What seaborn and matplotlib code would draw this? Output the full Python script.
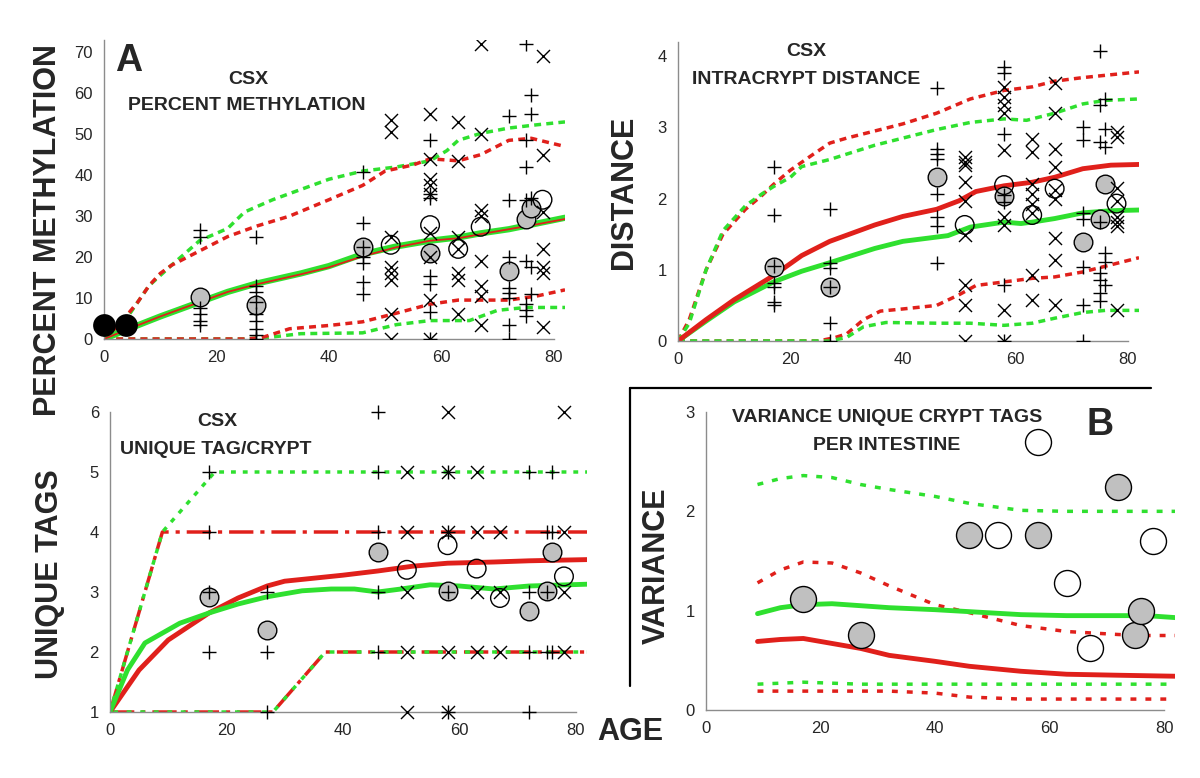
import matplotlib
matplotlib.use("Agg")
import matplotlib.pyplot as plt
import seaborn as sns
from matplotlib.lines import Line2D

W, H = 1200, 778
RED = "#e0201b"
GREEN = "#2fe02f"
GRAY_FILL = "#c0c0c0"
AXIS_GRAY = "#8c8c8c"

# ---------------- panel A: percent methylation ----------------
meth_black_age = [0, 4]
meth_black_val = [3.5, 3.5]
meth_gray_age = [17, 27, 46, 58, 72, 75, 76]
meth_gray_val = [10.3, 8.3, 22.5, 21, 16.7, 29.4, 31.9]
meth_open_age = [51, 58, 63, 67, 78]
meth_open_val = [23, 27.8, 22, 27.4, 34]
meth_plus = {
    17: [26.5, 25, 7.5, 6, 4.5, 3.5],
    27: [25, 13, 11.5, 9, 6, 4.5, 2.5, 1, 0],
    46: [40.8, 28.2, 22.5, 20, 18.5, 14, 11],
    58: [48.5, 35.5, 34.5, 15.5, 13.5, 6.5, 0],
    72: [54.5, 34, 20, 12.5, 11.2, 10, 3.5, 0],
    75: [72, 48.5, 42, 34, 19, 8.5, 7, 5.5],
    76: [59.5, 55, 34.5, 17.5, 11],
}
meth_cross = {
    51: [53.5, 50.5, 25, 17.5, 16, 14.5, 6, 0],
    58: [55, 44, 39, 37.5, 35.5, 26, 20, 9.5, 0],
    63: [53, 43.5, 25, 22, 16, 14.5, 6],
    67: [72, 50, 31.5, 30, 19, 13, 10.5, 3.5],
    78: [69, 45, 31, 22, 17.5, 16, 3],
}
meth_mean_age = [0, 5, 10, 17, 22, 27, 35, 40, 46, 52, 58, 63, 67, 72, 77, 82]
meth_mean_green = [0, 2.8, 5.5, 9, 11.5, 13.5, 16, 17.8, 20.7, 22.6, 24, 24.8, 25.8, 26.8, 28.2, 29.6]
meth_mean_red = [0, 2.8, 5.5, 9, 11.5, 13.3, 15.8, 17.5, 20.2, 22.4, 24, 24.6, 25.6, 26.8, 28, 29.3]
meth_hi_green_age = [0, 4, 8, 12, 17, 22, 25, 30, 40, 46, 52, 58, 61, 63, 67, 72, 77, 82]
meth_hi_green = [0, 5, 13, 18, 24, 27, 31, 34, 39, 41, 42, 43.5, 46, 48.5, 50.2, 51.5, 52.3, 53]
meth_hi_red_age = [0, 3, 6, 8, 10, 12, 17, 22, 27, 33, 40, 46, 50, 55, 58, 63, 67, 72, 76, 82]
meth_hi_red = [0, 4, 9, 13, 16, 18, 21.5, 25, 27.5, 30, 34, 37.5, 41, 42.5, 44, 43.5, 45, 48.5, 49, 47]
meth_lo_red_age = [0, 25, 28, 33, 40, 46, 52, 58, 63, 67, 72, 77, 82]
meth_lo_red = [0, 0, 0.3, 2.5, 3.3, 4.2, 6.3, 8.5, 9.5, 9.5, 9.5, 10.5, 12]
meth_lo_green_age = [0, 25, 30, 35, 46, 52, 58, 65, 70, 75, 82]
meth_lo_green = [0, 0, 0.5, 1.3, 1.5, 3.5, 4.5, 4.5, 7, 7.7, 7.7]

# ---------------- panel B (top right): intracrypt distance ----------------
dist_gray_age = [17, 27, 46, 58, 72, 75, 76]
dist_gray_val = [1.04, 0.76, 2.31, 2.03, 1.39, 1.72, 2.21]
dist_open_age = [51, 58, 63, 67, 78]
dist_open_val = [1.63, 2.19, 1.77, 2.14, 1.93]
dist_plus = {
    17: [2.45, 1.77, 1.06, 0.81, 0.76, 0.55, 0.5],
    27: [1.85, 1.09, 1.02, 0.76, 0.25, 0],
    46: [3.55, 2.7, 2.62, 2.55, 2.07, 1.74, 1.62, 1.09],
    58: [3.85, 3.76, 2.91, 2.05, 1.95, 0.79, 0],
    72: [3.0, 2.82, 1.8, 1.72, 1.04, 0.5, 0],
    75: [4.07, 3.31, 2.8, 1.67, 0.95, 0.86, 0.67, 0.56],
    76: [3.4, 2.98, 2.73, 1.23, 1.11, 0.79],
}
dist_cross = {
    51: [2.58, 2.52, 2.47, 2.24, 1.96, 1.49, 0.79, 0.51, 0],
    58: [3.57, 3.43, 3.31, 3.2, 2.68, 1.74, 1.63, 0.44, 0],
    63: [2.84, 2.66, 2.21, 2.07, 1.93, 1.8, 0.93, 0.58],
    67: [3.62, 3.2, 2.7, 2.45, 2.12, 2.0, 1.44, 1.14, 0.51],
    78: [2.93, 2.86, 2.15, 1.96, 1.74, 1.67, 1.62, 0.44],
}
dist_mean_red_age = [0, 5, 10, 17, 22, 27, 35, 40, 46, 50, 53, 58, 63, 67, 72, 77, 82]
dist_mean_red = [0, 0.3, 0.58, 0.92, 1.2, 1.4, 1.63, 1.75, 1.85, 1.97, 2.1, 2.18, 2.23, 2.3, 2.42, 2.47, 2.48]
dist_mean_green_age = [0, 5, 10, 17, 22, 27, 35, 40, 48, 52, 58, 61, 63, 67, 72, 77, 82]
dist_mean_green = [0, 0.28, 0.55, 0.83, 0.98, 1.1, 1.3, 1.4, 1.48, 1.6, 1.67, 1.65, 1.67, 1.72, 1.8, 1.83, 1.84]
dist_hi_red_age = [0, 2, 5, 8, 12, 15, 17, 20, 24, 27, 30, 40, 46, 52, 58, 63, 67, 72, 82]
dist_hi_red = [0, 0.3, 1.0, 1.5, 1.85, 2.05, 2.2, 2.4, 2.62, 2.78, 2.85, 3.05, 3.2, 3.4, 3.52, 3.57, 3.65, 3.7, 3.78]
dist_hi_green_age = [0, 2, 5, 8, 12, 15, 17, 20, 22, 27, 35, 46, 52, 58, 62, 67, 72, 76, 82]
dist_hi_green = [0, 0.25, 1.0, 1.55, 1.9, 2.07, 2.17, 2.3, 2.45, 2.55, 2.75, 2.97, 3.07, 3.12, 3.1, 3.2, 3.33, 3.38, 3.4]
dist_lo_red_age = [0, 25, 28, 30, 33, 36, 40, 46, 50, 53, 58, 63, 67, 72, 82]
dist_lo_red = [0, 0, 0.05, 0.1, 0.3, 0.42, 0.45, 0.5, 0.65, 0.78, 0.83, 0.88, 0.9, 0.97, 1.17]
dist_lo_green_age = [0, 27, 30, 33, 37, 46, 52, 58, 63, 67, 72, 76, 82]
dist_lo_green = [0, 0, 0.05, 0.2, 0.26, 0.25, 0.25, 0.22, 0.25, 0.32, 0.4, 0.43, 0.43]

# ---------------- panel C (bottom left): unique tags per crypt ----------------
tags_gray_age = [17, 27, 46, 58, 72, 75, 76]
tags_gray_val = [2.91, 2.36, 3.67, 3.02, 2.69, 3.02, 3.67]
tags_open_age = [51, 58, 63, 67, 78]
tags_open_val = [3.37, 3.78, 3.39, 2.9, 3.26]
tags_plus = {
    17: [5, 4, 3, 2],
    27: [3, 2, 1],
    46: [6, 5, 4, 3, 2],
    58: [5, 4, 3, 1],
    72: [5, 3, 2, 1],
    75: [4, 3, 2],
    76: [5, 4, 2],
}
tags_cross = {
    51: [5, 4, 3, 2, 1],
    58: [6, 5, 4, 2, 1],
    63: [5, 4, 3, 2],
    67: [4, 3, 2],
    78: [6, 4, 3, 2],
}
tags_mean_red_age = [0, 5, 10, 17, 22, 27, 30, 40, 46, 52, 58, 66, 72, 82]
tags_mean_red = [1, 1.7, 2.2, 2.65, 2.9, 3.1, 3.18, 3.28, 3.35, 3.43, 3.48, 3.5, 3.52, 3.54]
tags_mean_green_age = [0, 3, 6, 12, 17, 22, 27, 33, 38, 42, 46, 50, 55, 60, 66, 72, 82]
tags_mean_green = [1, 1.7, 2.15, 2.48, 2.65, 2.8, 2.92, 3.02, 3.05, 3.05, 3.0, 3.05, 3.12, 3.1, 3.05, 3.1, 3.13]
tags_hi_green_age = [0, 9, 18, 82]
tags_hi_green = [1, 4, 5, 5]
tags_hi_red_age = [0, 9, 82]
tags_hi_red = [1, 4, 4]
tags_lo_age = [0, 28, 37, 82]
tags_lo = [1, 1, 2, 2]

# ---------------- panel D (bottom right): variance of unique tags ----------------
var_gray_age = [17, 27, 46, 58, 72, 75, 76]
var_gray_val = [1.12, 0.76, 1.76, 1.76, 2.25, 0.76, 1.0]
var_open_age = [51, 58, 63, 67, 78]
var_open_val = [1.76, 2.7, 1.28, 0.62, 1.7]
var_age = [9, 13, 17, 22, 27, 32, 40, 46, 55, 63, 72, 77, 82]
var_mean_green = [0.97, 1.03, 1.06, 1.07, 1.05, 1.03, 1.01, 0.99, 0.96, 0.95, 0.95, 0.95, 0.93]
var_mean_red = [0.69, 0.71, 0.72, 0.67, 0.62, 0.55, 0.49, 0.44, 0.39, 0.36, 0.35, 0.345, 0.34]
var_hi_green = [2.27, 2.33, 2.36, 2.34, 2.27, 2.22, 2.15, 2.08, 2.01, 2.0, 2.0, 2.0, 2.0]
var_hi_red = [1.28, 1.41, 1.49, 1.48, 1.38, 1.25, 1.06, 0.98, 0.85, 0.79, 0.76, 0.75, 0.75]
var_lo_green = [0.26, 0.27, 0.28, 0.27, 0.26, 0.26, 0.26, 0.26, 0.26, 0.26, 0.26, 0.26, 0.26]
var_lo_red = [0.19, 0.19, 0.19, 0.19, 0.19, 0.19, 0.17, 0.13, 0.11, 0.11, 0.11, 0.11, 0.11]


def spread(columns):
    xs, ys = [], []
    for age, vals in columns.items():
        xs += [age] * len(vals)
        ys += vals
    return xs, ys


def line(ax, x, y, color, lw, ls="-"):
    sns.lineplot(x=x, y=y, ax=ax, color=color, linewidth=lw, linestyle=ls,
                 estimator=None, sort=False, legend=False, zorder=2)


def marks(ax, plus, cross, gray_x, gray_y, open_x, open_y, circle_s=180, cross_s=110):
    px, py = spread(plus)
    cx, cy = spread(cross)
    sns.scatterplot(x=px, y=py, ax=ax, marker="+", s=cross_s, color="black",
                    linewidth=1.0, zorder=4, legend=False)
    sns.scatterplot(x=cx, y=cy, ax=ax, marker="x", s=cross_s * 0.8, color="black",
                    linewidth=1.0, zorder=4, legend=False)
    sns.scatterplot(x=gray_x, y=gray_y, ax=ax, marker="o", s=circle_s, color=GRAY_FILL,
                    edgecolor="black", linewidth=1.0, zorder=3, legend=False)
    sns.scatterplot(x=open_x, y=open_y, ax=ax, marker="o", s=circle_s, facecolor="none",
                    edgecolor="black", linewidth=1.0, zorder=3, legend=False)


def style_axes(ax, ylim, yticks):
    ax.set_xlim(0, 82)
    ax.set_ylim(*ylim)
    ax.set_xticks([0, 20, 40, 60, 80])
    ax.set_yticks(yticks)
    ax.set_xlabel("")
    ax.set_ylabel("")
    for side in ["top", "right"]:
        ax.spines[side].set_visible(False)
    for side in ["left", "bottom"]:
        ax.spines[side].set_color(AXIS_GRAY)
        ax.spines[side].set_linewidth(1.0)
    ax.spines["bottom"].set_bounds(0, 80)
    ax.tick_params(axis="x", direction="in", length=5, color=AXIS_GRAY, labelsize=12, pad=8)
    ax.tick_params(axis="y", direction="out", length=4, color=AXIS_GRAY, labelsize=12, pad=4)
    ax.patch.set_alpha(0)


def fig_text(fig, x, y, s, size, **kw):
    fig.text(x / W, 1 - y / H, s, fontsize=size, fontweight="bold",
             ha="center", va="center", **kw)


sns.set_style("white")
plt.rcParams["font.family"] = ["Liberation Sans", "DejaVu Sans"]

fig = plt.figure(figsize=(12, 7.78), dpi=100)
dash = (0, (2.0, 1.5))

# panel A
ax = fig.add_axes([104 / W, 1 - 339 / H, 461 / W, 299 / H])
line(ax, meth_hi_green_age, meth_hi_green, GREEN, 2.5, dash)
line(ax, meth_hi_red_age, meth_hi_red, RED, 2.5, dash)
line(ax, meth_lo_green_age, meth_lo_green, GREEN, 2.5, dash)
line(ax, meth_lo_red_age, meth_lo_red, RED, 2.5, dash)
line(ax, meth_mean_age, meth_mean_green, GREEN, 4.5)
line(ax, meth_mean_age, meth_mean_red, RED, 1.3)
marks(ax, meth_plus, meth_cross, meth_gray_age, meth_gray_val, meth_open_age, meth_open_val)
sns.scatterplot(x=meth_black_age, y=meth_black_val, ax=ax, marker="o", s=230, color="black",
                edgecolor="black", zorder=5, legend=False, clip_on=False)
style_axes(ax, (0, 73), range(0, 71, 10))

# panel B (top right)
ax = fig.add_axes([678 / W, 1 - 341 / H, 461 / W, 299 / H])
line(ax, dist_hi_red_age, dist_hi_red, RED, 2.5, dash)
line(ax, dist_hi_green_age, dist_hi_green, GREEN, 2.5, dash)
line(ax, dist_lo_red_age, dist_lo_red, RED, 2.5, dash)
line(ax, dist_lo_green_age, dist_lo_green, GREEN, 2.5, dash)
line(ax, dist_mean_green_age, dist_mean_green, GREEN, 3.5)
line(ax, dist_mean_red_age, dist_mean_red, RED, 3.5)
marks(ax, dist_plus, dist_cross, dist_gray_age, dist_gray_val, dist_open_age, dist_open_val)
style_axes(ax, (0, 4.2), range(0, 5))

# panel C (bottom left)
ax = fig.add_axes([110 / W, 1 - 712 / H, 82 * 5.82 / W, 300 / H])
line(ax, tags_hi_red_age, tags_hi_red, RED, 2.5, (0, (7, 2, 1.2, 2)))
line(ax, tags_hi_green_age, tags_hi_green, GREEN, 2.5, (0, (1.4, 2)))
line(ax, tags_lo_age, tags_lo, RED, 2.5, (0, (7, 2, 1.2, 2)))
line(ax, tags_lo_age, tags_lo, GREEN, 2.5, (3, (1.4, 2.5)))
line(ax, tags_mean_red_age, tags_mean_red, RED, 3.5)
line(ax, tags_mean_green_age, tags_mean_green, GREEN, 3.5)
marks(ax, tags_plus, tags_cross, tags_gray_age, tags_gray_val, tags_open_age, tags_open_val)
style_axes(ax, (1, 6), range(1, 7))
for pt in ax.collections:
    pt.set_clip_on(False)

# panel D (bottom right)
ax = fig.add_axes([706 / W, 1 - 710 / H, 82 * 5.725 / W, 298 / H])
line(ax, var_age, var_hi_green, GREEN, 2.5, (0, (1.7, 2.6)))
line(ax, var_age, var_hi_red, RED, 2.5, (0, (1.7, 2.6)))
line(ax, var_age, var_lo_green, GREEN, 2.5, (0, (1.7, 2.6)))
line(ax, var_age, var_lo_red, RED, 2.5, (0, (1.7, 2.6)))
line(ax, var_age, var_mean_green, GREEN, 3.5)
line(ax, var_age, var_mean_red, RED, 3.5)
sns.scatterplot(x=var_gray_age, y=var_gray_val, ax=ax, marker="o", s=350, color=GRAY_FILL,
                edgecolor="black", linewidth=1.0, zorder=3, legend=False)
sns.scatterplot(x=var_open_age, y=var_open_val, ax=ax, marker="o", s=350, facecolor="white",
                edgecolor="black", linewidth=1.0, zorder=3, legend=False)
style_axes(ax, (0, 3), range(0, 4))

# bracket around panel B
fig.add_artist(Line2D([630 / W, 1151 / W], [1 - 388 / H, 1 - 388 / H], color="black", lw=1.6))
fig.add_artist(Line2D([630 / W, 630 / W], [1 - 388 / H, 1 - 686 / H], color="black", lw=1.6))

# titles inside panels
fig_text(fig, 248, 79, "CSX", 14)
fig_text(fig, 247, 106, "PERCENT METHYLATION", 14)
fig_text(fig, 806, 52, "CSX", 14)
fig_text(fig, 806, 80, "INTRACRYPT DISTANCE", 14)
fig_text(fig, 217, 422, "CSX", 14)
fig_text(fig, 216, 449, "UNIQUE TAG/CRYPT", 14)
fig_text(fig, 887, 418, "VARIANCE UNIQUE CRYPT TAGS", 14)
fig_text(fig, 887, 446, "PER INTESTINE", 14)
fig_text(fig, 129, 61, "A", 27)
fig_text(fig, 1100, 425, "B", 27)

# big axis labels
fig_text(fig, 48, 230, "PERCENT METHYLATION", 22, rotation=90)
fig_text(fig, 624, 192, "DISTANCE", 22, rotation=90)
fig_text(fig, 50, 574, "UNIQUE TAGS", 22, rotation=90)
fig_text(fig, 657, 566, "VARIANCE", 22, rotation=90)
fig_text(fig, 630, 732, "AGE", 22)

fig.savefig("out.png", dpi=100)
